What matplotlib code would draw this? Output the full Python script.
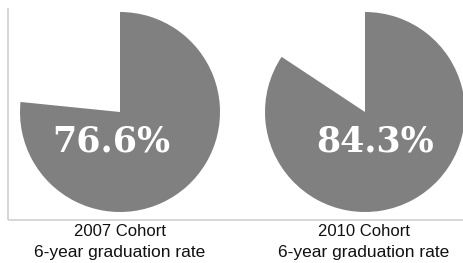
import matplotlib
matplotlib.use("Agg")
import matplotlib.pyplot as plt

# data
cohorts = ["2007 Cohort", "2010 Cohort"]
rates = [76.6, 84.3]
subtitle = "6-year graduation rate"

W, H = 464, 263
fig = plt.figure(figsize=(W / 100, H / 100), dpi=100)
ax = fig.add_axes([0, 0, 1, 1])

# light frame on left and bottom
line_c = "#cfcfcf"
ax.plot([8, 8], [H - 8, H - 220], color=line_c, lw=1.2, solid_capstyle="butt")
ax.plot([8, W], [H - 220, H - 220], color=line_c, lw=1.2, solid_capstyle="butt")

centers = [(120, H - 112), (365, H - 112)]
text_pos = [(111, H - 141), (375, H - 141)]
label_x = [120, 364]

for rate, name, (cx, cy), (tx, ty), lx in zip(rates, cohorts, centers, text_pos, label_x):
    ax.pie([rate, 100 - rate], colors=["#808080", "none"], startangle=90,
           counterclock=False, center=(cx, cy), radius=100,
           wedgeprops=dict(linewidth=0), frame=True)
    ax.text(tx, ty, f"{rate:.1f}%", ha="center", va="center", color="white",
            fontsize=25, fontweight="bold", family="DejaVu Serif")
    ax.text(lx, H - 232, name, ha="center", va="center", fontsize=12,
            family="Liberation Sans", color="#111111")
    ax.text(lx, H - 252, subtitle, ha="center", va="center", fontsize=12.5,
            family="Liberation Sans", color="#111111")

ax.set_xlim(0, W)
ax.set_ylim(0, H)
ax.set_aspect("auto")
ax.axis("off")
fig.savefig("out.png", dpi=100)
